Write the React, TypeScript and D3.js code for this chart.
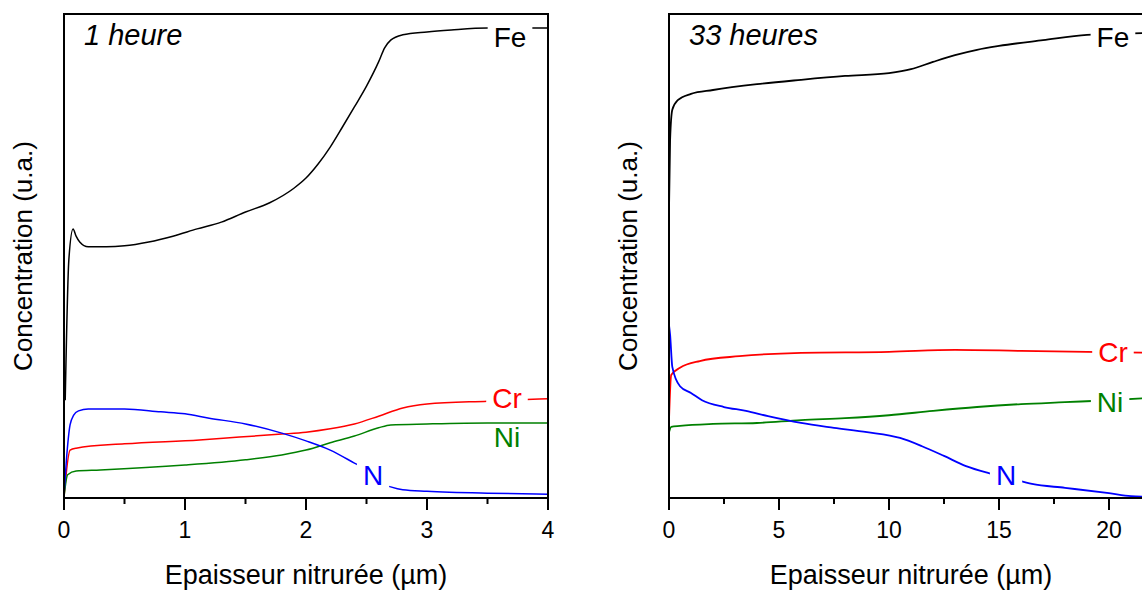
import React, { useEffect, useRef } from "react";
import * as d3 from "d3";

type P = [number, number];

// ---- Left panel (1 heure), x in µm, y in arbitrary units (0-100)
const feLeft: P[] = [
  [0.01, 20.2], [0.04, 49.2], [0.075, 55.6], [0.1, 54.1], [0.13, 52.9], [0.2, 51.9],
  [0.35, 51.9], [0.5, 52.1], [0.7, 52.9], [0.9, 54.1], [1.1, 55.6], [1.3, 57.0],
  [1.5, 59.1], [1.7, 61.0], [1.9, 64.0], [2.0, 66.1], [2.1, 69.0], [2.2, 72.5],
  [2.3, 76.6], [2.4, 80.8], [2.5, 85.1], [2.6, 90.1], [2.65, 93.0], [2.7, 94.6],
  [2.8, 95.7], [3.0, 96.3], [3.2, 96.7], [3.5, 97.1], [4.0, 97.1],
];
const crLeft: P[] = [
  [0, 0.2], [0.05, 9.9], [0.1, 10.3], [0.5, 11.2], [1.12, 12.0], [1.45, 12.6],
  [1.8, 13.2], [2.0, 13.6], [2.2, 14.3], [2.4, 15.3], [2.6, 16.9], [2.8, 18.6],
  [3.0, 19.4], [3.5, 20.0], [4.0, 20.5],
];
const niLeft: P[] = [
  [0, 0.2], [0.03, 4.8], [0.1, 5.6], [0.3, 5.8], [1.0, 6.8], [1.5, 7.9], [1.8, 8.9],
  [2.0, 9.9], [2.2, 11.4], [2.4, 12.8], [2.6, 14.5], [2.7, 15.1], [3.0, 15.3],
  [3.5, 15.5], [4.0, 15.5],
];
const nLeft: P[] = [
  [0, 0.6], [0.02, 7.9], [0.05, 15.1], [0.08, 17.1], [0.12, 18.0], [0.2, 18.4],
  [0.5, 18.4], [0.8, 17.8], [1.0, 17.4], [1.2, 16.5], [1.5, 15.3], [1.8, 13.4],
  [2.0, 11.8], [2.2, 9.9], [2.4, 7.2], [2.5, 5.8], [2.6, 3.3], [2.7, 2.3],
  [2.8, 1.7], [3.0, 1.4], [3.5, 1.0], [4.0, 0.8],
];

// ---- Right panel (33 heures)
const feRight: P[] = [
  [0.0, 59.5], [0.05, 74.0], [0.15, 80.2], [0.4, 82.2], [1, 83.5], [2, 84.3],
  [4, 85.5], [6, 86.4], [8, 87.2], [10, 87.8], [11, 88.6], [12, 90.1], [13, 91.5],
  [14, 92.6], [15, 93.4], [17, 94.6], [19, 95.7], [22, 96.1],
];
const crRight: P[] = [
  [0.0, 16.1], [0.1, 25.4], [0.5, 26.9], [1.4, 28.3], [3.2, 29.3], [6, 30.0],
  [10, 30.2], [13, 30.6], [16, 30.4], [19, 30.2], [22, 30.0],
];
const niRight: P[] = [
  [0, 13.6], [0.1, 14.7], [0.5, 14.9], [2, 15.3], [4, 15.5], [6, 16.1], [8, 16.5],
  [10, 17.1], [12, 18.0], [14, 18.8], [16, 19.4], [18, 19.8], [20, 20.2], [22, 20.7],
];
const nRight: P[] = [
  [0.0, 35.7], [0.05, 33.7], [0.15, 27.1], [0.5, 23.1], [1, 21.7], [1.5, 20.2],
  [2.5, 18.8], [3.5, 18.0], [4.5, 16.9], [6, 15.5], [7.5, 14.5], [9, 13.6],
  [10.5, 12.4], [11.5, 10.7], [12.5, 8.7], [13.5, 6.6], [14.5, 5.2], [15.5, 4.1],
  [16.5, 2.9], [18, 2.1], [20, 1.0], [21, 0.4], [22, 0.2],
];

const seriesNames = ["Fe", "Cr", "Ni", "N"];
const seriesColors = ["#000000", "#ff0000", "#008000", "#0000ff"];

const leftLabelPos: P[] = [[3.686, 93.2], [3.661, 18.6], [3.661, 10.5], [2.554, 2.7]];
const rightLabelPos: P[] = [[20.18, 93.2], [20.18, 28.1], [20.05, 17.8], [15.32, 2.7]];

const leftMajor = [0, 1, 2, 3, 4];
const leftMinor = [0.5, 1.5, 2.5, 3.5];
const rightMajor = [0, 5, 10, 15, 20];
const rightMinor = [2.5, 7.5, 12.5, 17.5];

const panelTitles = ["1 heure", "33 heures"];
const xTitle = "Epaisseur nitrurée (µm)";
const yTitle = "Concentration (u.a.)";

const FONT = "'Liberation Sans', Arial, Helvetica, sans-serif";

export default function App() {
  const ref = useRef<SVGSVGElement | null>(null);

  useEffect(() => {
    const svg = d3.select(ref.current);
    svg.selectAll("*").remove();

    const panels = [
      { x0: 64, domain: [0, 4], major: leftMajor, minor: leftMinor, series: [feLeft, crLeft, niLeft, nLeft], labels: leftLabelPos, title: panelTitles[0], sw: 1.5 },
      { x0: 669, domain: [0, 22], major: rightMajor, minor: rightMinor, series: [feRight, crRight, niRight, nRight], labels: rightLabelPos, title: panelTitles[1], sw: 1.8 },
    ];
    const size = 484;
    const top = 14;

    panels.forEach((p, pi) => {
      const x = d3.scaleLinear().domain(p.domain).range([p.x0, p.x0 + size]);
      const y = d3.scaleLinear().domain([0, 100]).range([top + size, top]);
      const g = svg.append("g");
      const clipId = `clip${pi}`;
      g.append("clipPath").attr("id", clipId).append("rect")
        .attr("x", p.x0).attr("y", top).attr("width", size).attr("height", size);

      const line = d3.line<P>().x((d) => x(d[0])).y((d) => y(d[1])).curve(d3.curveMonotoneX);
      const lg = g.append("g").attr("clip-path", `url(#${clipId})`);
      p.series.forEach((s, i) => {
        lg.append("path").attr("d", line(s) as string).attr("fill", "none")
          .attr("stroke", seriesColors[i]).attr("stroke-width", p.sw).attr("stroke-linejoin", "round");
      });

      // labels with white background
      p.labels.forEach((pos, i) => {
        const lgp = g.append("g");
        const t = lgp.append("text").attr("x", x(pos[0])).attr("y", y(pos[1]))
          .attr("text-anchor", "middle").attr("font-family", FONT).attr("font-size", 28)
          .attr("fill", seriesColors[i]).text(seriesNames[i]);
        const bb = (t.node() as SVGTextElement).getBBox();
        lgp.insert("rect", "text").attr("x", bb.x - 6).attr("y", bb.y + 2)
          .attr("width", bb.width + 12).attr("height", bb.height - 2).attr("fill", "#fff");
      });

      // frame
      g.append("rect").attr("x", p.x0).attr("y", top).attr("width", size).attr("height", size)
        .attr("fill", "none").attr("stroke", "#000").attr("stroke-width", 2);

      // ticks
      p.major.forEach((v) => {
        g.append("line").attr("x1", x(v)).attr("x2", x(v)).attr("y1", top + size).attr("y2", top + size + 12)
          .attr("stroke", "#000").attr("stroke-width", 2);
        g.append("text").attr("x", x(v)).attr("y", 538).attr("text-anchor", "middle")
          .attr("font-family", FONT).attr("font-size", 23).attr("fill", "#000").text(String(v));
      });
      p.minor.forEach((v) => {
        g.append("line").attr("x1", x(v)).attr("x2", x(v)).attr("y1", top + size).attr("y2", top + size + 6)
          .attr("stroke", "#000").attr("stroke-width", 2);
      });

      // axis titles
      g.append("text").attr("x", p.x0 + size / 2).attr("y", 584).attr("text-anchor", "middle")
        .attr("font-family", FONT).attr("font-size", 27).attr("fill", "#000").text(xTitle);
      g.append("text").attr("transform", `translate(${p.x0 - 32},${top + size / 2}) rotate(-90)`)
        .attr("text-anchor", "middle").attr("font-family", FONT).attr("font-size", 26)
        .attr("fill", "#000").text(yTitle);

      // panel title
      g.append("text").attr("x", p.x0 + 20).attr("y", 45).attr("font-family", FONT)
        .attr("font-style", "italic").attr("font-size", 29).attr("fill", "#000").text(p.title);
    });
  }, []);

  return (
    <svg ref={ref} width={1142} height={590}
      style={{ position: "absolute", left: 0, top: 0, background: "#fff" }} />
  );
}
